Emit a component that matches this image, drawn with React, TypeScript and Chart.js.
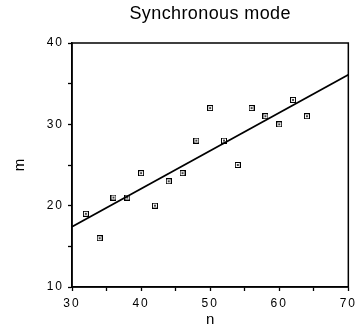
import React, { useEffect, useRef } from "react";
import { Chart, registerables } from "chart.js";

Chart.register(...registerables);

const TITLE = "Synchronous mode";
const X_LABEL = "n";
const Y_LABEL = "m";

const nValues = [32, 34, 36, 38, 40, 42, 44, 46, 48, 50, 52, 54, 56, 58, 60, 62, 64];
const mValues = [19, 16, 21, 21, 24, 20, 23, 24, 28, 32, 28, 25, 32, 31, 30, 33, 31];

const fitX = [30, 70];
const fitY = [17.4, 36.1];

const X_MIN = 30;
const X_MAX = 70;
const Y_MIN = 10;
const Y_MAX = 40;
const TICK_STEP = 5;

function makeMarker(): HTMLCanvasElement {
  const c = document.createElement("canvas");
  c.width = 6;
  c.height = 6;
  const g = c.getContext("2d")!;
  g.fillStyle = "#000";
  g.fillRect(0, 0, 6, 6);
  g.fillStyle = "#fff";
  g.fillRect(1, 1, 4, 4);
  g.fillStyle = "#444";
  g.fillRect(2, 2, 2, 2);
  return c;
}

const labelsPlugin = {
  id: "customLabels",
  beforeDraw(chart: any) {
    chart.ctx.letterSpacing = "2px";
  },
  afterDraw(chart: any) {
    const { ctx, chartArea } = chart;
    ctx.save();
    ctx.letterSpacing = "0px";
    ctx.strokeStyle = "#000";
    ctx.lineWidth = 1.5;
    ctx.strokeRect(chartArea.left, chartArea.top, chartArea.right - chartArea.left, chartArea.bottom - chartArea.top);
    ctx.fillStyle = "#000";
    ctx.textAlign = "center";
    ctx.textBaseline = "middle";
    ctx.font = "18px 'Liberation Sans', Arial, sans-serif";
    ctx.letterSpacing = "0.4px";
    ctx.fillText(TITLE, (chartArea.left + chartArea.right) / 2, 14);
    ctx.letterSpacing = "0px";
    ctx.font = "15px 'Liberation Sans', Arial, sans-serif";
    ctx.fillText(X_LABEL, (chartArea.left + chartArea.right) / 2, 320);
    ctx.translate(20, (chartArea.top + chartArea.bottom) / 2);
    ctx.rotate(-Math.PI / 2);
    ctx.fillText(Y_LABEL, 0, 0);
    ctx.restore();
  },
};

export default function App() {
  const ref = useRef<HTMLCanvasElement | null>(null);
  useEffect(() => {
    document.body.style.margin = "0";
    const marker = makeMarker();
    const tickFont = { family: "'Liberation Sans', Arial, sans-serif", size: 12 };
    const chart = new Chart(ref.current!, {
      type: "scatter",
      data: {
        datasets: [
          {
            type: "line",
            data: fitX.map((x, i) => ({ x, y: fitY[i] })),
            borderColor: "#000",
            borderWidth: 1.8,
            pointRadius: 0,
            showLine: true,
            fill: false,
          },
          {
            data: nValues.map((x, i) => ({ x, y: mValues[i] })),
            pointStyle: marker as any,
            pointRadius: 3,
            borderColor: "#000",
            backgroundColor: "#fff",
          },
        ],
      } as any,
      options: {
        animation: false,
        responsive: false,
        events: [],
        layout: { padding: { top: 43, right: 6, left: 0, bottom: 0 } },
        plugins: { legend: { display: false }, tooltip: { enabled: false }, title: { display: false } },
        scales: {
          x: {
            type: "linear",
            min: X_MIN,
            max: X_MAX,
            ticks: {
              stepSize: TICK_STEP,
              autoSkip: false,
              maxRotation: 0,
              color: "#000",
              font: tickFont,
              padding: 5,
              callback: (v: any) => (Number(v) % 10 === 0 ? String(v) : ""),
            },
            grid: { drawOnChartArea: false, drawTicks: true, tickLength: 4, color: "#000", tickWidth: 1.3 },
            border: { display: true, color: "#000", width: 1.5 },
            afterFit: (s: any) => {
              s.height = 45;
            },
          },
          y: {
            type: "linear",
            min: Y_MIN,
            max: Y_MAX,
            ticks: {
              stepSize: TICK_STEP,
              autoSkip: false,
              color: "#000",
              font: tickFont,
              padding: 4,
              callback: (v: any) => (Number(v) % 10 === 0 ? String(v) : ""),
            },
            grid: { drawOnChartArea: false, drawTicks: true, tickLength: 4, color: "#000", tickWidth: 1.3 },
            border: { display: true, color: "#000", width: 1.5 },
            afterFit: (s: any) => {
              s.width = 72;
            },
          },
        },
      } as any,
      plugins: [labelsPlugin],
    });
    return () => chart.destroy();
  }, []);
  return (
    <div style={{ width: 360, height: 332 }}>
      <canvas ref={ref} width={360} height={332} style={{ display: "block" }} />
    </div>
  );
}
